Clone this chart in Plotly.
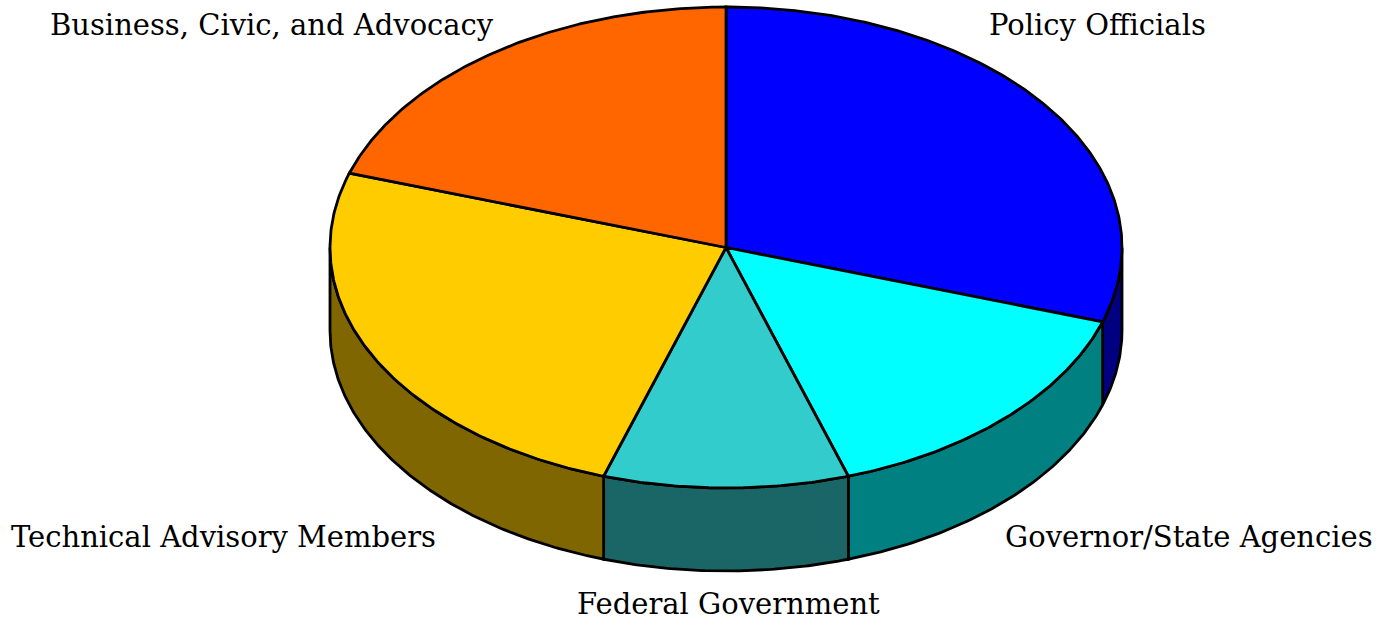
import numpy as np
import plotly.graph_objects as go

# Share of committee seats by member group, clockwise from twelve o'clock
groups = ["Policy Officials", "Governor/State Agencies", "Federal Government",
          "Technical Advisory Members", "Business, Civic, and Advocacy"]
shares = [30, 15, 10, 25, 20]
top_colors = ["#0000FF", "#00FFFF", "#33CCCC", "#FFCC00", "#FF6600"]
wall_colors = ["#000080", "#008080", "#1A6666", "#806600", "#803300"]

# Label anchor for each group, same order as above
label_x = [1097, 1189, 728, 223, 272]
label_y = [25, 537, 604, 537, 25]

WIDTH, HEIGHT = 1388, 622
CX, CY, RX, RY, DEPTH = 726, 247.5, 396, 240.5, 83
EDGE = dict(color="#000000", width=2.8)


def rim(start, stop, drop=0.0):
    """Points on the pie's elliptical rim between two clockwise angles in degrees."""
    t = np.radians(np.linspace(start, stop, max(2, int(abs(stop - start) * 2) + 1)))
    return CX + RX * np.sin(t), CY - RY * np.cos(t) + drop


fig = go.Figure()
edges = np.concatenate([[0], np.cumsum(shares)]) / sum(shares) * 360

# Side walls: only the front half of the rim faces the viewer
for i in range(len(shares)):
    start, stop = max(edges[i], 90), min(edges[i + 1], 270)
    if start >= stop:
        continue
    x0, y0 = rim(start, stop)
    x1, y1 = rim(stop, start, DEPTH)
    fig.add_trace(go.Scatter(
        x=np.concatenate([x0, x1, x0[:1]]), y=np.concatenate([y0, y1, y0[:1]]),
        mode="lines", fill="toself", fillcolor=wall_colors[i], line=EDGE,
        hoverinfo="skip", showlegend=False))

# Top face slices
for i in range(len(shares)):
    x0, y0 = rim(edges[i], edges[i + 1])
    fig.add_trace(go.Scatter(
        x=np.concatenate([[CX], x0, [CX]]), y=np.concatenate([[CY], y0, [CY]]),
        mode="lines", fill="toself", fillcolor=top_colors[i], line=EDGE,
        name=groups[i], hoverinfo="name", showlegend=False))

for name, lx, ly in zip(groups, label_x, label_y):
    fig.add_annotation(x=lx, y=ly, text=name, showarrow=False, xanchor="center", yanchor="middle",
                       borderpad=0, font=dict(family="DejaVu Serif", size=29, color="#000000"))

fig.update_layout(
    width=WIDTH, height=HEIGHT, margin=dict(l=0, r=0, t=0, b=0),
    paper_bgcolor="#FFFFFF", plot_bgcolor="#FFFFFF",
    xaxis=dict(range=[0, WIDTH], visible=False, fixedrange=True),
    yaxis=dict(range=[HEIGHT, 0], visible=False, fixedrange=True),
)
fig.write_html("out.html", config={"displayModeBar": False})
